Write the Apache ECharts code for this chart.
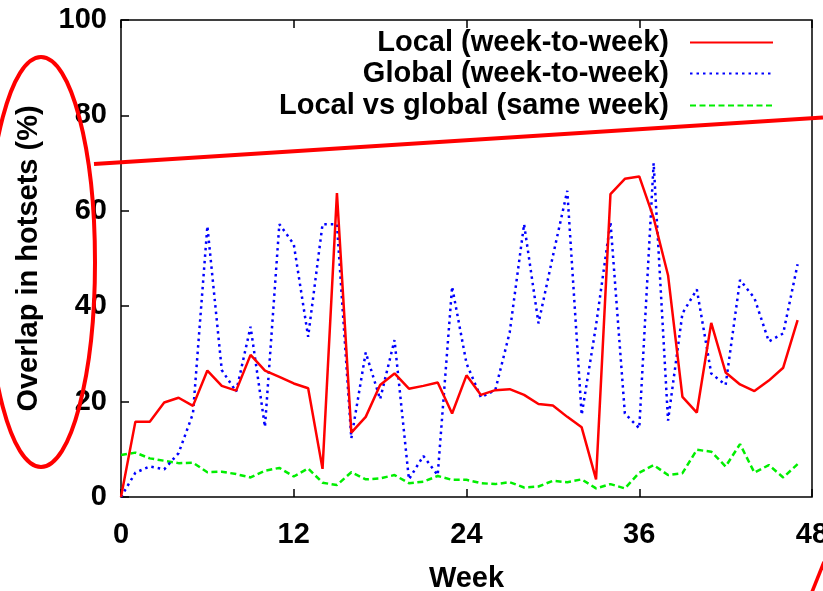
<!DOCTYPE html>
<html>
<head>
<meta charset="utf-8">
<script src="https://cdn.jsdelivr.net/npm/echarts@6/dist/echarts.min.js"></script>
<style>
html,body{margin:0;padding:0;background:#fff;}
#chart{width:823px;height:591px;}
</style>
</head>
<body>
<div id="chart"></div>
<script>
const weeks = [0,1,2,3,4,5,6,7,8,9,10,11,12,13,14,15,16,17,18,19,20,21,22,23,24,25,26,27,28,29,30,31,32,33,34,35,36,37,38,39,40,41,42,43,44,45,46,47];
const localWeek = [0,15.8,15.8,19.8,20.8,19.1,26.5,23.3,22.3,29.8,26.5,25.2,23.8,22.8,5.9,63.7,13.5,16.8,23.5,25.9,22.7,23.3,24.0,17.5,25.5,21.4,22.4,22.6,21.4,19.5,19.2,16.8,14.6,3.7,63.5,66.7,67.2,58.5,46.5,21.0,17.7,36.5,26.1,23.6,22.2,24.4,27.1,37.1];
const globalWeek = [0,5.1,6.4,5.8,9.2,17.5,56.8,26.6,22.1,35.7,14.7,57.2,53.0,33.6,57.2,57.2,12.3,30.3,20.5,32.9,3.7,8.6,4.6,44.1,28.0,20.9,22.4,34.5,57.2,36.4,50.5,64.2,17.2,36.0,57.7,17.5,14.4,70.0,16.0,38.5,43.5,25.9,23.5,45.5,41.7,32.6,34.3,48.8];
const localVsGlobal = [8.8,9.3,8.1,7.6,7.1,7.2,5.2,5.3,4.8,4.1,5.5,6.1,4.3,6.0,3.0,2.5,5.2,3.7,3.9,4.6,2.9,3.2,4.4,3.6,3.6,2.9,2.7,3.1,2.0,2.2,3.4,3.1,3.7,1.8,2.7,1.8,5.1,6.7,4.6,5.0,9.9,9.5,6.4,11.1,5.1,6.7,4.1,6.9];
const seriesNames = ['Local (week-to-week)','Global (week-to-week)','Local vs global (same week)'];
const xTicks = [0,12,24,36,48];
const yTicks = [0,20,40,60,80,100];

function pairs(vals){ return weeks.map((w,i)=>[w, vals[i]]); }

const chart = echarts.init(document.getElementById('chart'), null, {renderer:'canvas'});
const FONT = 'Liberation Sans, Arial, Helvetica, sans-serif';
function mkLegend(name, top){
  return {
    data:[name], right:49, top:top, padding:0, align:'right',
    itemWidth:83, itemHeight:14, selectedMode:false,
    itemStyle:{opacity:0},
    textStyle:{fontFamily:FONT, fontSize:29, fontWeight:'bold', color:'#000', padding:[0,16,0,0]}
  };
}
chart.setOption({
  animation:false,
  backgroundColor:'#fff',
  grid:{left:121, right:11, top:20, bottom:94, show:true, borderColor:'#000', borderWidth:1.5, backgroundColor:'transparent', outerBoundsMode:'none', containLabel:false},
  legend:[mkLegend(seriesNames[0],28), mkLegend(seriesNames[1],59), mkLegend(seriesNames[2],91)],
  xAxis:[{
    type:'value', min:xTicks[0], max:xTicks[xTicks.length-1], interval:12,
    name:'Week', nameLocation:'middle', nameGap:67,
    nameTextStyle:{fontFamily:FONT, fontSize:29, fontWeight:'bold', color:'#000'},
    axisLine:{show:false}, splitLine:{show:false},
    axisTick:{inside:true, length:8, lineStyle:{color:'#000', width:1.5}},
    axisLabel:{fontFamily:FONT, fontSize:29, fontWeight:'bold', color:'#000', margin:23}
  },{
    type:'value', position:'top', min:xTicks[0], max:xTicks[xTicks.length-1], interval:12,
    axisLine:{show:false}, splitLine:{show:false}, axisLabel:{show:false},
    axisTick:{inside:true, length:8, lineStyle:{color:'#000', width:1.5}}
  }],
  yAxis:{
    type:'value', min:yTicks[0], max:yTicks[yTicks.length-1], interval:20,
    name:'Overlap in hotsets (%)', nameLocation:'middle', nameGap:78, nameRotate:90,
    nameTextStyle:{fontFamily:FONT, fontSize:29, fontWeight:'bold', color:'#000'},
    axisLine:{show:false}, splitLine:{show:false},
    axisTick:{inside:true, length:8, lineStyle:{color:'#000', width:1.5}},
    axisLabel:{fontFamily:FONT, fontSize:29, fontWeight:'bold', color:'#000', margin:14}
  },
  series:[
    {name:seriesNames[0], type:'line', data:pairs(localWeek), symbol:'none', color:'#ff0000',
     lineStyle:{color:'#ff0000', width:2.5, type:'solid'}, z:5},
    {name:seriesNames[1], type:'line', data:pairs(globalWeek), symbol:'none', color:'#0000ff',
     lineStyle:{color:'#0000ff', width:2.5, type:[2.5,4]}, z:4},
    {name:seriesNames[2], type:'line', data:pairs(localVsGlobal), symbol:'none', color:'#00ee00',
     lineStyle:{color:'#00ee00', width:2.5, type:[6,3.5]}, z:3}
  ],
  graphic:[
    {type:'ellipse', z:100, shape:{cx:41, cy:262, rx:54, ry:205}, style:{fill:null, stroke:'#ff0000', lineWidth:4}},
    {type:'line', z:100, shape:{x1:94, y1:164, x2:823, y2:117.5}, style:{stroke:'#ff0000', lineWidth:4}},
    {type:'line', z:100, shape:{x1:812, y1:592, x2:824, y2:562}, style:{stroke:'#ff0000', lineWidth:3.5}}
  ]
});
</script>
</body>
</html>
